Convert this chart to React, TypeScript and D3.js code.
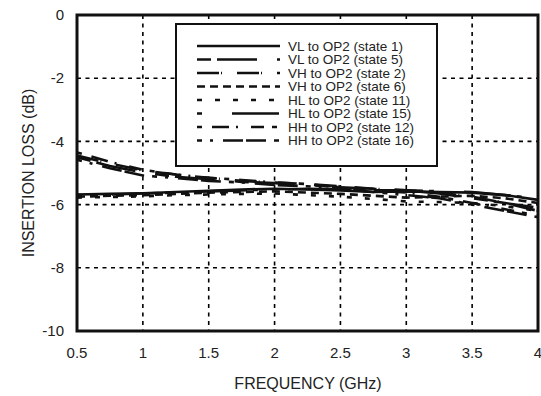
import * as d3 from 'd3';

// frequency points (GHz)
const freqs = [0.5, 0.75, 1, 1.25, 1.5, 1.75, 2, 2.25, 2.5, 2.75, 3, 3.25, 3.5, 3.75, 4];

// insertion loss (dB)
const vlState1 = [-5.68, -5.66, -5.64, -5.6, -5.56, -5.52, -5.5, -5.52, -5.55, -5.6, -5.58, -5.6, -5.62, -5.7, -5.85];
const vlState5 = [-4.5, -4.78, -4.98, -5.12, -5.2, -5.28, -5.32, -5.38, -5.45, -5.5, -5.55, -5.65, -5.8, -5.95, -6.1];
const vhState2 = [-4.45, -4.7, -4.92, -5.05, -5.15, -5.25, -5.3, -5.35, -5.42, -5.5, -5.55, -5.62, -5.75, -5.95, -6.2];
const vhState6 = [-5.75, -5.72, -5.7, -5.66, -5.62, -5.6, -5.58, -5.62, -5.66, -5.72, -5.78, -5.75, -5.72, -5.8, -5.95];
const hlState11 = [-5.78, -5.76, -5.74, -5.7, -5.68, -5.66, -5.65, -5.7, -5.75, -5.82, -5.9, -5.92, -5.95, -6.05, -6.2];
const hlState15 = [-5.7, -5.68, -5.65, -5.62, -5.58, -5.55, -5.52, -5.5, -5.52, -5.55, -5.55, -5.58, -5.6, -5.7, -5.8];
const hhState12 = [-4.35, -4.65, -4.9, -5.05, -5.15, -5.22, -5.3, -5.35, -5.45, -5.55, -5.62, -5.75, -5.95, -6.15, -6.35];
const hhState16 = [-4.58, -4.85, -5.08, -5.16, -5.25, -5.3, -5.38, -5.42, -5.5, -5.6, -5.7, -5.8, -6.0, -6.2, -6.4];

const seriesNames = [
  'VL to OP2 (state 1)',
  'VL to OP2 (state 5)',
  'VH to OP2 (state 2)',
  'VH to OP2 (state 6)',
  'HL to OP2 (state 11)',
  'HL to OP2 (state 15)',
  'HH to OP2 (state 12)',
  'HH to OP2 (state 16)',
];
const seriesValues = [vlState1, vlState5, vhState2, vhState6, hlState11, hlState15, hhState12, hhState16];
const dashes = [
  'none',
  '14 6 40 20',
  '22 2 1 15',
  '8 5',
  '5 13',
  '5 30 47 6',
  '5 10 17 7 2 13 13 8',
  '5 8 3 10 20 3 20 8',
];

const xTicks = [0.5, 1, 1.5, 2, 2.5, 3, 3.5, 4];
const yTicks = [0, -2, -4, -6, -8, -10];

const width = 541;
const height = 396;
const marginLeft = 77;
const marginRight = 3;
const marginTop = 15;
const marginBottom = 65;
const font = 'Arial, "Liberation Sans", Helvetica, sans-serif';

export default function App() {
  const x = d3.scaleLinear([0.5, 4], [marginLeft, width - marginRight]);
  const y = d3.scaleLinear([-10, 0], [height - marginBottom, marginTop]);
  const line = d3
    .line<number>()
    .x((d, i) => x(freqs[i]))
    .y((d) => y(d));

  const lx = 176;
  const ly = 24;
  const lw = 261;
  const lh = 142;

  return (
    <svg
      width={width}
      height={height}
      style={{ position: 'absolute', left: 0, top: 0, background: '#fff' }}
      fontFamily={font}
    >
      {/* grid */}
      <g stroke="#000" strokeWidth="1.6" strokeDasharray="4 4.5">
        {yTicks.slice(1, -1).map((t) => (
          <line key={'h' + t} x1={x(0.5)} x2={x(4)} y1={y(t)} y2={y(t)} />
        ))}
        {xTicks.slice(1, -1).map((t) => (
          <line key={'v' + t} x1={x(t)} x2={x(t)} y1={y(0)} y2={y(-10)} />
        ))}
      </g>

      {/* data */}
      <g fill="none" stroke="#111" strokeWidth="2.6">
        {seriesValues.map((vals, i) => (
          <path key={i} d={line(vals) ?? ''} strokeDasharray={dashes[i]} />
        ))}
      </g>

      {/* legend */}
      <rect x={lx} y={ly} width={lw} height={lh} fill="#fff" stroke="#111" strokeWidth="2" />
      {seriesNames.map((name, i) => {
        const yy = ly + 22 + i * 13.5;
        return (
          <g key={name}>
            <line
              x1={lx + 21}
              x2={lx + 104}
              y1={yy}
              y2={yy}
              stroke="#111"
              strokeWidth="2.6"
              strokeDasharray={dashes[i]}
            />
            <text x={lx + 112} y={yy} dy="0.35em" fontSize="13.5" fill="#222">
              {name}
            </text>
          </g>
        );
      })}

      {/* frame */}
      <rect
        x={x(0.5)}
        y={y(0)}
        width={x(4) - x(0.5)}
        height={y(-10) - y(0)}
        fill="none"
        stroke="#111"
        strokeWidth="3"
      />

      {/* y ticks */}
      {yTicks.map((t) => (
        <text key={t} x={64} y={y(t)} dy="0.35em" textAnchor="end" fontSize="15" fill="#222">
          {t}
        </text>
      ))}
      {/* x ticks */}
      {xTicks.map((t) => (
        <text key={t} x={x(t)} y={353} dy="0.35em" textAnchor="middle" fontSize="15" fill="#222">
          {t}
        </text>
      ))}

      <text x={308} y={383} dy="0.35em" textAnchor="middle" fontSize="16" fill="#222">
        FREQUENCY (GHz)
      </text>
      <text
        transform={`translate(28,${y(-5)}) rotate(-90)`}
        dy="0.35em"
        textAnchor="middle"
        fontSize="16"
        fill="#222"
      >
        INSERTION LOSS  (dB)
      </text>
    </svg>
  );
}
